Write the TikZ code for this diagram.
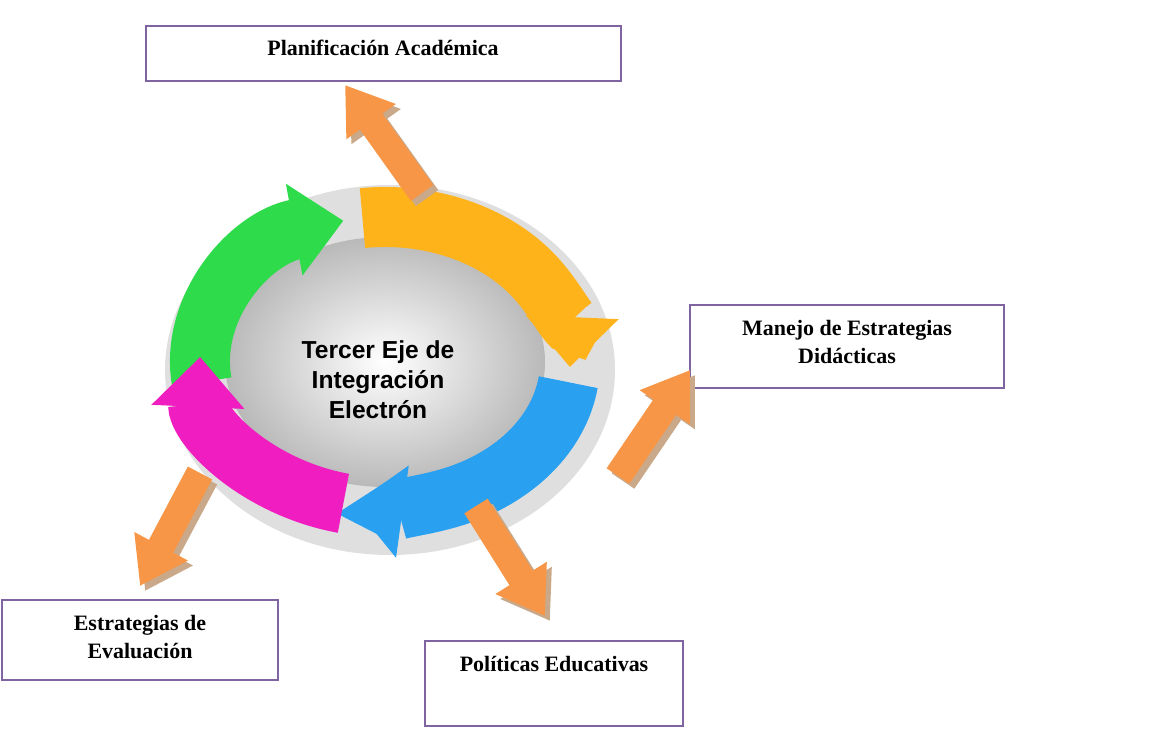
\documentclass[tikz,border=0pt]{standalone}
\usepackage{fontspec}
\setmainfont{Liberation Serif}
\setsansfont{Liberation Sans}
\usetikzlibrary{arrows.meta}
\definecolor{boxline}{HTML}{8064A2}
\definecolor{pointfill}{HTML}{F79646}
\definecolor{pshadow}{HTML}{C9A98A}
\definecolor{ringgreen}{HTML}{2EDB4A}
\definecolor{ringorange}{HTML}{FFB31A}
\definecolor{ringblue}{HTML}{2AA0F0}
\definecolor{ringpink}{HTML}{F01DC0}
\begin{document}
\begin{tikzpicture}[
        x=0.02cm, y=0.02cm,
        topic/.style = {draw=boxline, line width=1.2pt},
        label/.style = {font=\fontsize{12.5}{15.5}\selectfont\bfseries, align=center},
        ring/.style  = {line width=1.2cm, -{Triangle[width=1.8cm,length=1.0cm]}},
        pointer/.style = {line width=0.55cm, -{Triangle[width=1.15cm,length=0.9cm]}},
    ]
    \useasboundingbox (0,0) rectangle (1151,728);
    % boxes
    \draw[topic] (146,647) rectangle (621,702);
    \node[label] (plan) at (383,680) {Planificación Académica};
    \draw[topic] (690,340) rectangle (1004,423);
    \node[label] (manejo) at (847,386) {Manejo de Estrategias\\Didácticas};
    \draw[topic] (2,48) rectangle (278,128);
    \node[label] (evalua) at (140,91) {Estrategias de\\Evaluación};
    \draw[topic] (425,2) rectangle (683,87);
    \node[label] (polit) at (554,64) {Políticas Educativas};
    % cycle
    \fill[gray!25] (390,358) ellipse [x radius=225, y radius=185];
    \shade[inner color=white, outer color=gray!55] (385,366) ellipse [x radius=160, y radius=125];
    \coordinate (c) at (385,366);
    \draw[ring, ringgreen] ([shift={(188:185 and 145)}]c) arc[start angle=188, end angle=103, x radius=185, y radius=145];
    \draw[ring, ringorange] ([shift={(97:185 and 145)}]c) arc[start angle=97, end angle=-2, x radius=185, y radius=145];
    \draw[ring, ringblue] ([shift={(-8:185 and 145)}]c) arc[start angle=-8, end angle=-100, x radius=185, y radius=145];
    \draw[ring, ringpink] ([shift={(-103:185 and 145)}]c) arc[start angle=-103, end angle=-182, x radius=185, y radius=145];
    \node[font=\sffamily\bfseries\fontsize{14}{17}\selectfont, align=center] (eje) at (378,348) {Tercer Eje de\\Integración\\Electrón};
    % pointers
    \coordinate (p1) at (422,535); \coordinate (q1) at (345,643);
    \coordinate (p2) at (618,252); \coordinate (q2) at (690,358);
    \coordinate (p3) at (476,222); \coordinate (q3) at (545,112);
    \coordinate (p4) at (200,255); \coordinate (q4) at (140,142);
    \foreach \a/\b in {p1/q1,p2/q2,p3/q3,p4/q4} {
        \draw[pointer, pshadow] ([shift={(5,-5)}]\a) -- ([shift={(5,-5)}]\b);
        \draw[pointer, pointfill] (\a) -- (\b);
    }
\end{tikzpicture}
\end{document}
